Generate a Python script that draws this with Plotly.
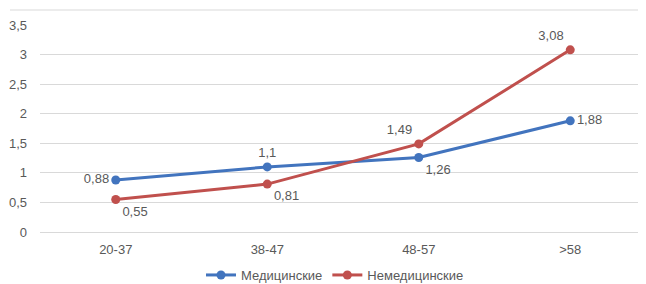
import plotly.graph_objects as go

categories = ["20-37", "38-47", "48-57", ">58"]
med_values = [0.88, 1.1, 1.26, 1.88]
nonmed_values = [0.55, 0.81, 1.49, 3.08]
series_names = ["Медицинские", "Немедицинские"]
med_positions = ["middle left", "top center", "bottom right", "middle right"]
nonmed_positions = ["bottom right", "bottom right", "top left", "top left"]

def fmt(v):
    return str(v).replace(".", ",")

FONT = "Liberation Sans, Arial, sans-serif"
FS = 13
TXT = "#595959"
BLUE = "#4274BE"
RED = "#C0504D"

fig = go.Figure()
fig.add_trace(go.Scatter(
    x=categories, y=med_values, name=series_names[0], mode="lines+markers+text",
    line=dict(color=BLUE, width=3), marker=dict(size=9, color=BLUE),
    text=[fmt(v) for v in med_values], textposition=med_positions,
    textfont=dict(family=FONT, size=FS, color=TXT), cliponaxis=False,
))
fig.add_trace(go.Scatter(
    x=categories, y=nonmed_values, name=series_names[1], mode="lines+markers+text",
    line=dict(color=RED, width=3), marker=dict(size=9, color=RED),
    text=[fmt(v) for v in nonmed_values], textposition=nonmed_positions,
    textfont=dict(family=FONT, size=FS, color=TXT), cliponaxis=False,
))

# page has an 8px body margin; compensate
W, H = 638, 276
ml, mr, mt, mb = 32, 0, 17, 52
ph = H - mt - mb
pw = W - ml - mr

fig.update_layout(
    width=W, height=H, margin=dict(l=ml, r=mr, t=mt, b=mb, autoexpand=False),
    paper_bgcolor="white", plot_bgcolor="white",
    separators=", ",
    font=dict(family=FONT, size=FS, color=TXT),
    showlegend=True,
    legend=dict(orientation="h", xref="container", yref="container",
                x=327 / W, xanchor="center", y=9 / H, yanchor="middle",
                font=dict(family=FONT, size=FS, color=TXT),
                itemwidth=30, tracegroupgap=0),
    xaxis=dict(type="category", range=[-0.5, 3.5], showgrid=False, showline=False,
               zeroline=False, ticks="", ticklabelstandoff=8,
               tickfont=dict(family=FONT, size=FS, color=TXT)),
    yaxis=dict(range=[0, 3.5], dtick=0.5, tick0=0, showgrid=True, gridcolor="#D9D9D9",
               gridwidth=1, zeroline=True, zerolinecolor="#D9D9D9", zerolinewidth=1,
               showline=False, ticks="", ticklabelstandoff=12,
               tickfont=dict(family=FONT, size=FS, color=TXT)),
    shapes=[dict(type="line", xref="paper", yref="paper", x0=(2 - ml) / pw, x1=1,
                 y0=1 + 15 / ph, y1=1 + 15 / ph, line=dict(color="#D9D9D9", width=1))],
)

fig.write_html("out.html")
